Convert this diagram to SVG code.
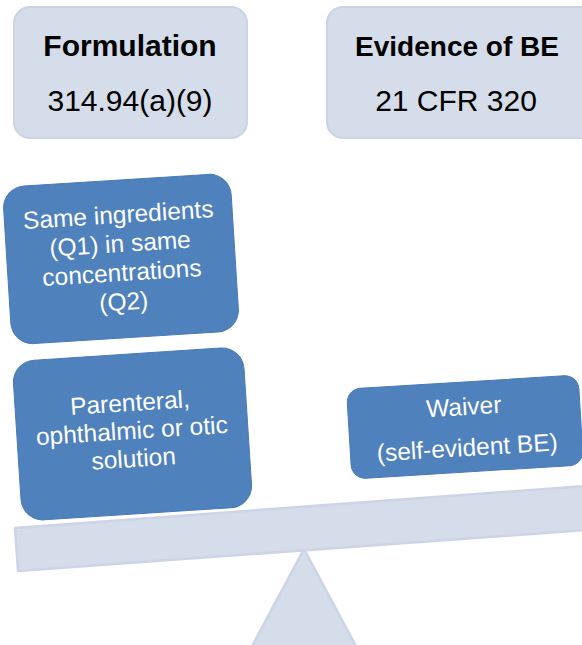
<svg xmlns="http://www.w3.org/2000/svg" width="582" height="645" viewBox="0 0 582 645">
<style>
.hdr{fill:#D5DCEA;stroke:#CBD3E5;stroke-width:2}
.blue{fill:#4F81BD;stroke:#4A7AB5;stroke-width:1}
.scale{fill:#D5DCEA;stroke:#CCD4E6;stroke-width:2.5;stroke-linejoin:round}
.t{font-family:"Liberation Sans",Arial,sans-serif;font-size:30px;fill:#000;text-anchor:middle}
.b{font-weight:bold}
.w{font-family:"Liberation Sans",Arial,sans-serif;font-size:24.5px;fill:#fff;text-anchor:middle}
</style>
<rect width="582" height="645" fill="#fff"/>
<g id="fulcrum">
<polygon class="scale" points="304,549 358,650 250,650"/>
</g>
<g id="beam">
<polygon class="scale" points="15,528 625,483 628,527 18,571"/>
</g>
<g id="formulation">
<rect class="hdr" x="14" y="7" width="233" height="131" rx="16"/>
<text class="t b" x="130" y="56">Formulation</text>
<text class="t" x="130" y="111">314.94(a)(9)</text>
</g>
<g id="evidence">
<rect class="hdr" x="327" y="7" width="280" height="131" rx="16"/>
<text class="t b" x="457" y="56" style="font-size:28px">Evidence of BE</text>
<text class="t" x="456" y="111">21 CFR 320</text>
</g>
<g id="q1q2" transform="rotate(-3.6 121 259)">
<rect class="blue" x="7" y="180" width="228" height="158" rx="22"/>
<text class="w" x="121" y="223">Same ingredients</text>
<text class="w" x="121" y="252">(Q1) in same</text>
<text class="w" x="121" y="281">concentrations</text>
<text class="w" x="121" y="310">(Q2)</text>
</g>
<g id="solution" transform="rotate(-3.7 132 434)">
<rect class="blue" x="17" y="354" width="231" height="160" rx="22"/>
<text class="w" x="132" y="411">Parenteral,</text>
<text class="w" x="132" y="439">ophthalmic or otic</text>
<text class="w" x="132" y="467">solution</text>
</g>
<g id="waiver" transform="rotate(-3.5 465 427)">
<rect class="blue" x="349" y="382" width="232" height="90" rx="14"/>
<text class="w" x="465" y="415">Waiver</text>
<text class="w" x="466" y="456">(self-evident BE)</text>
</g>
<g id="connectors"/>
</svg>
